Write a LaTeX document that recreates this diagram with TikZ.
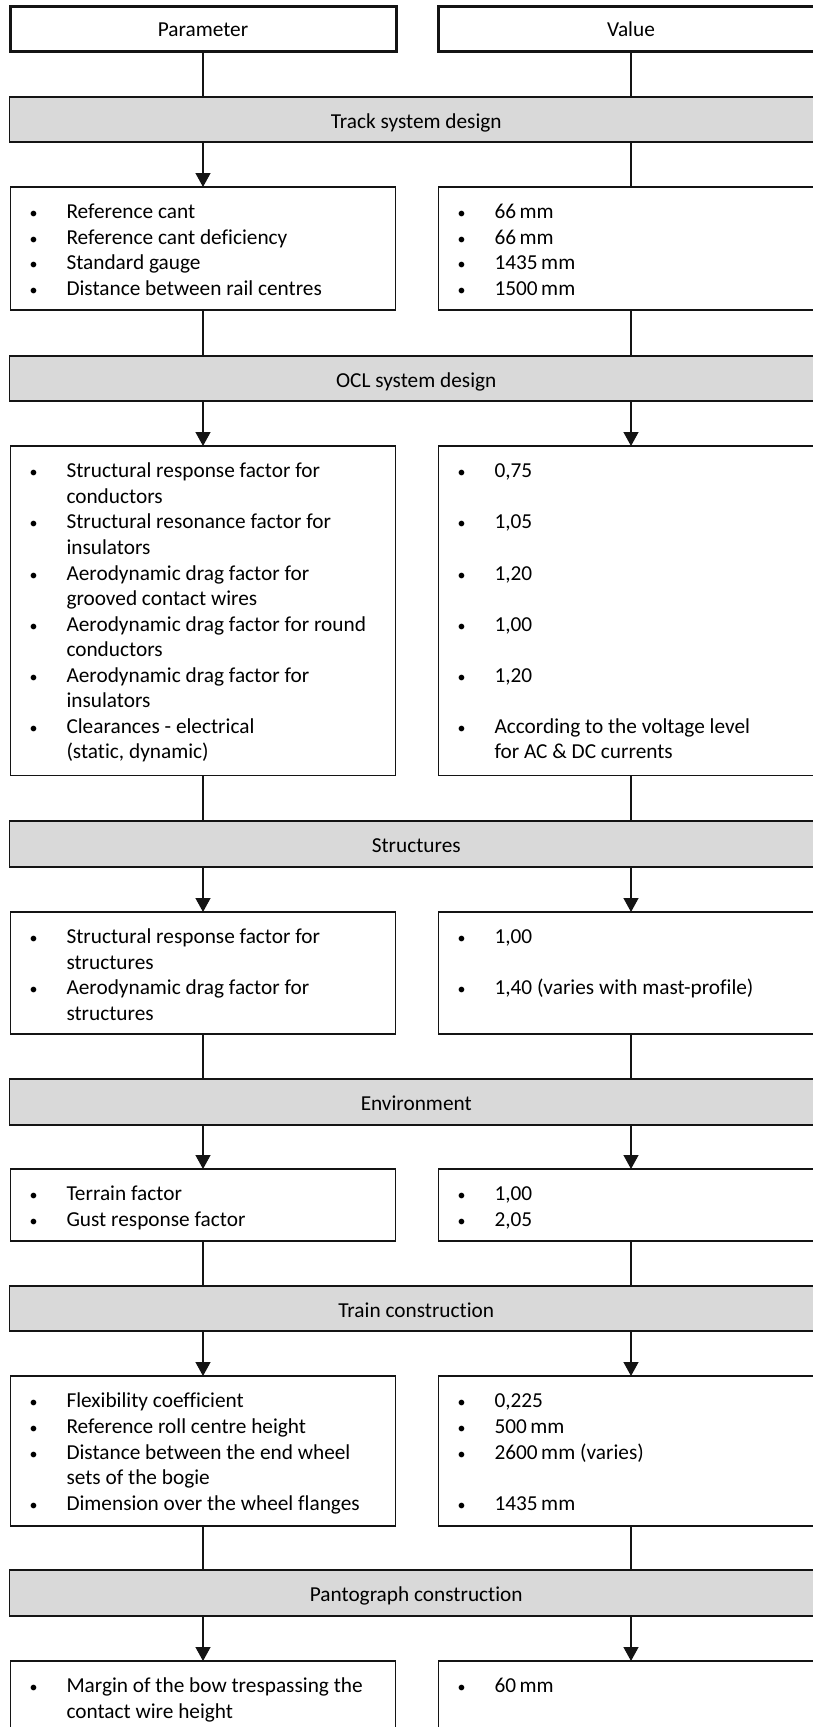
\documentclass[tikz,border=0pt]{standalone}
\usepackage{graphicx}
\usepackage{fontspec}
\setmainfont{Carlito}[Ligatures=NoCommon]
\usetikzlibrary{arrows.meta}
\definecolor{bandgray}{RGB}{217,217,217}
\definecolor{linegray}{RGB}{20,20,20}

% one bulleted entry; continuation lines hang under the text
\newcommand\bitem[1]{\par\hangindent=34pt\hangafter=1\noindent\strut\rlap{\makebox[2pt][c]{\scalebox{0.75}{•}}}\hspace{34pt}#1}
% an empty line, used to keep values level with their parameters
\newcommand\bgap{\par\noindent\strut}
% fixed-size cell: width, height, content
\newcommand\cell[3]{\parbox[c][#2][t]{#1}{\leftskip=22pt\vspace*{14pt}#3}}

\tikzset{
  every node/.style={font=\fontsize{21.3pt}{25.55pt}\selectfont, inner sep=0pt, outer sep=0pt},
  header/.style={draw=linegray, line width=3pt, minimum width=386pt, minimum height=44.4pt,
                 anchor=north west, text height=15.5pt, text depth=0pt},
  band/.style={draw=linegray, fill=bandgray, line width=1.5pt, minimum width=813.5pt,
               anchor=north west, text height=17pt, text depth=0pt},
  cellbox/.style={draw=linegray, line width=1.3pt, anchor=north west},
  link/.style={draw=linegray, line width=1.3pt},
  arr/.style={link, -{Triangle[length=14pt,width=15pt]}}
}

\begin{document}
\begin{tikzpicture}[x=1pt, y=-1pt]
\useasboundingbox (0,0) rectangle (813,1727);
\clip (0,0) rectangle (813,1727);

% column headers
\node[header] (hp) at (10,6.8) {Parameter};
\node[header] (hv) at (438,6.8) {Value};

% track system design
\node[band, minimum height=45pt] (b1) at (9.5,97) {Track system design};
\node[cellbox] (tl) at (10.5,187) {\cell{385pt}{123pt}{%
  \bitem{Reference cant}
  \bitem{Reference cant deficiency}
  \bitem{Standard gauge}
  \bitem{Distance between rail centres}}};
\node[cellbox] (tr) at (438.5,187) {\cell{385pt}{123pt}{%
  \bitem{66\,mm}
  \bitem{66\,mm}
  \bitem{1435\,mm}
  \bitem{1500\,mm}}};

% OCL system design
\node[band, minimum height=45pt] (b2) at (9.5,356) {OCL system design};
\node[cellbox] (ol) at (10.5,446) {\cell{385pt}{329.5pt}{%
  \bitem{Structural response factor for\newline conductors}
  \bitem{Structural resonance factor for\newline insulators}
  \bitem{Aerodynamic drag factor for\newline grooved contact wires}
  \bitem{Aerodynamic drag factor for round\newline conductors}
  \bitem{Aerodynamic drag factor for\newline insulators}
  \bitem{Clearances - electrical\newline (static, dynamic)}}};
\node[cellbox] (or) at (438.5,446) {\cell{385pt}{329.5pt}{%
  \bitem{0,75}\bgap
  \bitem{1,05}\bgap
  \bitem{1,20}\bgap
  \bitem{1,00}\bgap
  \bitem{1,20}\bgap
  \bitem{According to the voltage level\newline for AC \& DC currents}}};

% structures
\node[band, minimum height=46pt] (b3) at (9.5,821) {Structures};
\node[cellbox] (sl) at (10.5,912) {\cell{385pt}{122pt}{%
  \bitem{Structural response factor for\newline structures}
  \bitem{Aerodynamic drag factor for\newline structures}}};
\node[cellbox] (sr) at (438.5,912) {\cell{385pt}{122pt}{%
  \bitem{1,00}\bgap
  \bitem{1,40 (varies with mast-profile)}}};

% environment
\node[band, minimum height=46pt] (b4) at (9.5,1079) {Environment};
\node[cellbox] (el) at (10.5,1169) {\cell{385pt}{72pt}{%
  \bitem{Terrain factor}
  \bitem{Gust response factor}}};
\node[cellbox] (er) at (438.5,1169) {\cell{385pt}{72pt}{%
  \bitem{1,00}
  \bitem{2,05}}};

% train construction
\node[band, minimum height=45pt] (b5) at (9.5,1286) {Train construction};
\node[cellbox] (cl) at (10.5,1376) {\cell{385pt}{150pt}{%
  \bitem{Flexibility coefficient}
  \bitem{Reference roll centre height}
  \bitem{Distance between the end wheel\newline sets of the bogie}
  \bitem{Dimension over the wheel flanges}}};
\node[cellbox] (cr) at (438.5,1376) {\cell{385pt}{150pt}{%
  \bitem{0,225}
  \bitem{500\,mm}
  \bitem{2600\,mm (varies)}\bgap
  \bitem{1435\,mm}}};

% pantograph construction
\node[band, minimum height=46pt] (b6) at (9.5,1570) {Pantograph construction};
\node[cellbox] (pl) at (10.5,1661) {\cell{385pt}{110pt}{%
  \bitem{Margin of the bow trespassing the\newline contact wire height}}};
\node[cellbox] (pr) at (438.5,1661) {\cell{385pt}{110pt}{%
  \bitem{60\,mm}}};

% connectors: boxes down to the next band
\draw[link] (hp.south) -- (hp.south |- b1.north);
\draw[link] (hv.south) -- (hv.south |- b1.north);
\draw[link] (tl.south) -- (tl.south |- b2.north);
\draw[link] (tr.south) -- (tr.south |- b2.north);
\draw[link] (ol.south) -- (ol.south |- b3.north);
\draw[link] (or.south) -- (or.south |- b3.north);
\draw[link] (sl.south) -- (sl.south |- b4.north);
\draw[link] (sr.south) -- (sr.south |- b4.north);
\draw[link] (el.south) -- (el.south |- b5.north);
\draw[link] (er.south) -- (er.south |- b5.north);
\draw[link] (cl.south) -- (cl.south |- b6.north);
\draw[link] (cr.south) -- (cr.south |- b6.north);

% connectors: bands down to their boxes
\draw[arr]  (tl.north |- b1.south) -- (tl.north);
\draw[link] (tr.north |- b1.south) -- (tr.north);
\draw[arr] (ol.north |- b2.south) -- (ol.north);
\draw[arr] (or.north |- b2.south) -- (or.north);
\draw[arr] (sl.north |- b3.south) -- (sl.north);
\draw[arr] (sr.north |- b3.south) -- (sr.north);
\draw[arr] (el.north |- b4.south) -- (el.north);
\draw[arr] (er.north |- b4.south) -- (er.north);
\draw[arr] (cl.north |- b5.south) -- (cl.north);
\draw[arr] (cr.north |- b5.south) -- (cr.north);
\draw[arr] (pl.north |- b6.south) -- (pl.north);
\draw[arr] (pr.north |- b6.south) -- (pr.north);
\end{tikzpicture}
\end{document}
